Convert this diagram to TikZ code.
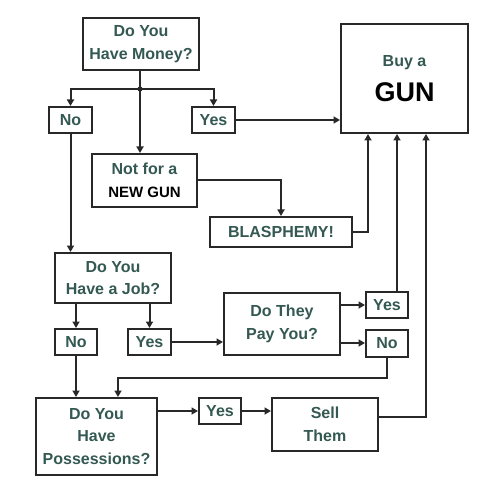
\documentclass[tikz,border=0pt]{standalone}
\usepackage{fontspec}
\setmainfont{Liberation Sans}
\usetikzlibrary{arrows.meta}
\definecolor{tealtext}{RGB}{52,88,82}
\definecolor{linec}{RGB}{40,40,40}
\tikzset{
  box/.style={draw=linec, line width=2pt, inner sep=0pt, align=center,
    text=tealtext, font=\fontsize{16}{22.5}\selectfont\bfseries},
  arr/.style={draw=linec, line width=2pt, -{Triangle[length=6.5pt,width=7pt]}},
  ln/.style={draw=linec, line width=2pt},
}
\begin{document}
\begin{tikzpicture}[x=1pt,y=-1pt]
\useasboundingbox (0,0) rectangle (500,478);
\node[box, minimum width=116pt, minimum height=52pt] (money) at (141,44) {Do You\\Have Money?};
\node[box, minimum width=43pt, minimum height=26pt] (no1) at (70.5,120) {No};
\node[box, minimum width=43pt, minimum height=26pt] (yes1) at (213.5,120) {Yes};
\node[box, minimum width=105pt, minimum height=53pt] (notfor) at (144.5,180.5) {Not for a\\{\color{black}\fontsize{15}{22.5}\selectfont NEW GUN}};
\node[box, minimum width=142pt, minimum height=30pt] (blasph) at (281,232) {BLASPHEMY!};
\node[box, minimum width=127pt, minimum height=109pt] (gun) at (404.5,78.5) {Buy a\\[13pt]{\color{black}\fontsize{27}{30}\selectfont GUN}};
\node[box, minimum width=116pt, minimum height=50pt] (job) at (113,278) {Do You\\Have a Job?};
\node[box, minimum width=42pt, minimum height=26pt] (no2) at (76,342) {No};
\node[box, minimum width=43pt, minimum height=26pt] (yes2) at (149.5,342) {Yes};
\node[box, minimum width=116pt, minimum height=62pt] (pay) at (282,324) {Do They\\Pay You?};
\node[box, minimum width=42pt, minimum height=26pt] (yes3) at (387,305) {Yes};
\node[box, minimum width=42pt, minimum height=27pt] (no3) at (387,343) {No};
\node[box, minimum width=121pt, minimum height=77pt] (poss) at (96.5,436.5) {Do You\\Have\\Possessions?};
\node[box, minimum width=42pt, minimum height=26pt] (yes4) at (220,411) {Yes};
\node[box, minimum width=106pt, minimum height=53pt] (sell) at (325,424.5) {Sell\\Them};

\coordinate (junc) at (140,89);
\coordinate (g1) at ([xshift=-36.5pt]gun.south);
\coordinate (g2) at ([xshift=-7.5pt]gun.south);
\coordinate (g3) at ([xshift=21.5pt]gun.south);

\draw[ln] (money.south -| junc) -- (junc);
\fill[linec] (junc) circle (2.6pt);
\draw[arr] (junc) -| (no1.north);
\draw[arr] (junc) -| (yes1.north);
\draw[arr] (junc) -- (junc |- notfor.north);
\draw[arr] (yes1.east) -- (yes1.east -| gun.west);
\draw[arr] (notfor.east) -| (blasph.north);
\draw[arr] (blasph.east) -| (g1);
\draw[arr] (g2 |- yes3.north) -- (g2);
\draw[arr] ([yshift=8pt]sell.east) -| (g3);
\draw[arr] (no1.south) -- (no1.south |- job.north);
\draw[arr] (job.south -| no2) -- (no2.north);
\draw[arr] (job.south -| yes2) -- (yes2.north);
\draw[arr] (yes2.east) -- (yes2.east -| pay.west);
\draw[arr] (pay.east |- yes3.west) -- (yes3.west);
\draw[arr] (pay.east |- no3.west) -- (no3.west);
\draw[arr] (no3.south) -- ++(0,20) -| ([xshift=21.5pt]poss.north);
\draw[arr] (no2.south) -- (no2.south |- poss.north);
\draw[arr] (poss.east |- yes4.west) -- (yes4.west);
\draw[arr] (yes4.east) -- (yes4.east -| sell.west);
\end{tikzpicture}
\end{document}
